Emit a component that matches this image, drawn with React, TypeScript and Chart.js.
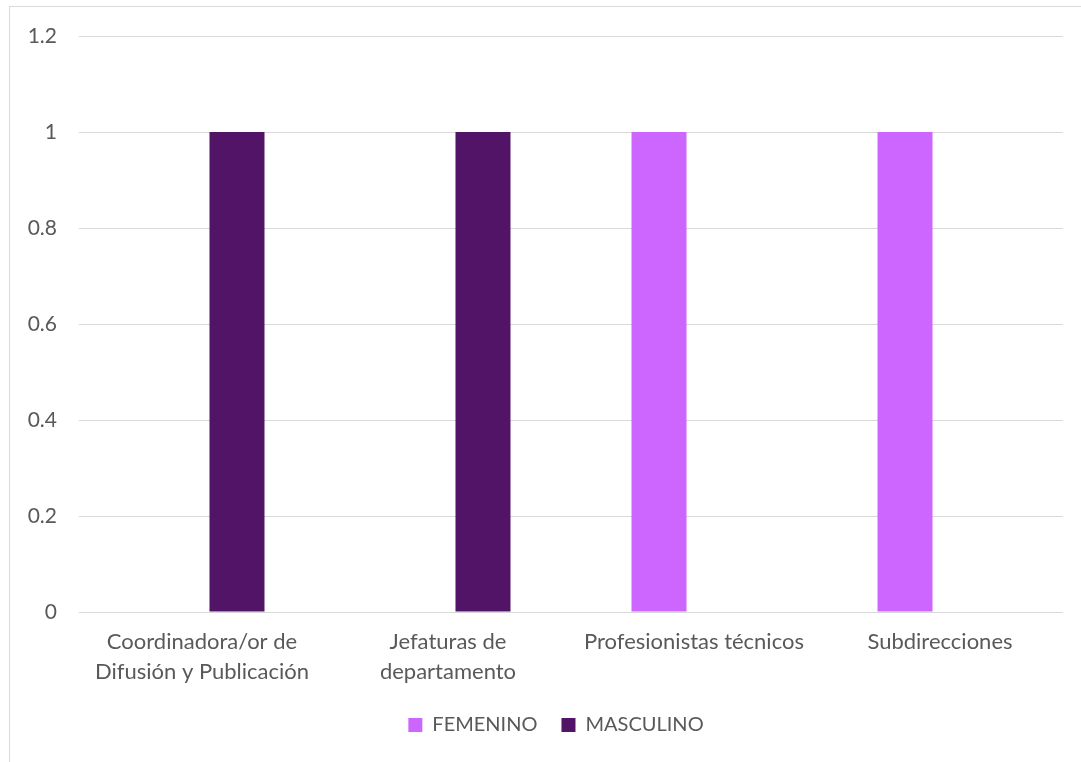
import React, { useEffect, useRef } from "react";
import { Chart, registerables } from "chart.js";

Chart.register(...registerables);

const categories: (string | string[])[] = [
  ["Coordinadora/or de", "Difusión y Publicación"],
  ["Jefaturas de", "departamento"],
  "Profesionistas técnicos",
  "Subdirecciones",
];
const femenino = [0, 0, 1, 1];
const masculino = [1, 1, 0, 0];
const seriesNames = ["FEMENINO", "MASCULINO"];
const seriesColors = ["#CC66FF", "#521466"];

const FONT = "Lato, 'Open Sans', sans-serif";
const TEXT = "#595959";

const legendShift = {
  id: "legendShift",
  afterUpdate(chart: any) {
    if (chart.legend) {
      chart.legend.left += 49;
      if (chart.legend.adjustHitBoxes) chart.legend.adjustHitBoxes();
    }
  },
};

export default function App() {
  const ref = useRef<HTMLCanvasElement>(null);
  useEffect(() => {
    if (!ref.current) return;
    const chart = new Chart(ref.current, {
      type: "bar",
      data: {
        labels: categories,
        datasets: [
          { label: seriesNames[0], data: femenino, backgroundColor: seriesColors[0], borderWidth: 0 },
          { label: seriesNames[1], data: masculino, backgroundColor: seriesColors[1], borderWidth: 0 },
        ],
      },
      plugins: [legendShift],
      options: {
        animation: false,
        responsive: false,
        maintainAspectRatio: false,
        layout: { padding: { left: 0, right: 18, top: 36, bottom: 17 } },
        datasets: { bar: { categoryPercentage: 0.569, barPercentage: 0.786 } },
        scales: {
          x: {
            grid: { display: false },
            border: { display: false },
            ticks: {
              color: TEXT,
              font: { family: FONT, size: 22, lineHeight: 1.36 },
              padding: 7,
              maxRotation: 0,
              autoSkip: false,
            },
            afterFit: (s: any) => { s.height = 79; },
          },
          y: {
            min: 0,
            max: 1.2,
            grid: { color: "#d9d9d9", lineWidth: 1, drawTicks: false },
            border: { display: false },
            ticks: {
              stepSize: 0.2,
              color: TEXT,
              padding: 22,
              font: { family: FONT, size: 21 },
              callback: (v: any) => String(Number(Number(v).toFixed(1))),
            },
            afterFit: (s: any) => { s.width = 79; },
          },
        },
        plugins: {
          legend: {
            position: "bottom",
            labels: {
              color: TEXT,
              font: { family: FONT, size: 20 },
              boxWidth: 14,
              boxHeight: 14,
              padding: 24,
            },
          },
          tooltip: { enabled: false },
        },
      },
    });
    return () => chart.destroy();
  }, []);
  return (
    <>
      <div
        style={{
          position: "fixed",
          left: 9,
          top: 6,
          width: 1100,
          height: 800,
          border: "1px solid #d9d9d9",
          boxSizing: "border-box",
          background: "#fff",
        }}
      />
      <canvas
        ref={ref}
        width={1081}
        height={762}
        style={{ position: "fixed", left: 0, top: 0, width: 1081, height: 762 }}
      />
    </>
  );
}
